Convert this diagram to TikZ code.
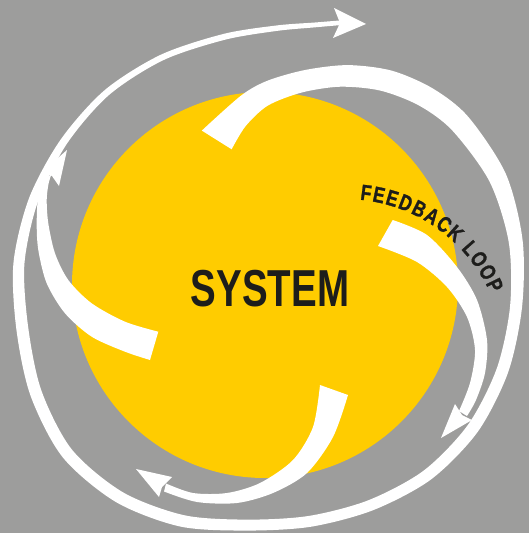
\documentclass[tikz,border=0pt]{standalone}
\usepackage{fontspec}
\newfontfamily\condfont[FakeStretch=0.74]{Liberation Sans}
\newfontfamily\labelfont[FakeStretch=0.78, BoldFeatures={FakeBold=1.2}]{Liberation Sans}
\definecolor{bggray}{RGB}{157,157,156}
\definecolor{sunyellow}{RGB}{255,204,0}
\definecolor{ink}{RGB}{29,29,27}

\begin{document}
\begin{tikzpicture}[x=1pt, y=-1pt,
    band/.style={fill=white},
    head/.style={fill=white},
    loopletter/.style={font=\labelfont\bfseries\fontsize{22}{22}\selectfont, text=ink, inner sep=0pt, anchor=base}]
  %background
  \fill[bggray] (0,0) rectangle (529,533);
  \useasboundingbox (0,0) rectangle (529,533);
  \fill[sunyellow] (265,285) circle[radius=193];

  %outer loop
  \begin{scope}[shift={(268,285)}]
    \fill[band] plot[smooth] coordinates {(246.8:168) (262:191.5) (270:204.5) (280:218.5) (290:234) (300:247.5) (310:256.5) (320:261.5) (335:262.5) (350:258.5) (365:255) (380:255.5) (395:256) (410:253.75) (425:248.5) (440:245.5) (455:246.5) (470:257) (485:265) (500:268) (515:262) (530:255.5) (545:255.5) (560:254.25) (575:253.25) (590:254.25) (605:254) (620:255) (632:259.75) (640:266.5) (645.4:274.5)}
      -- plot[smooth] coordinates {(645.4:269.5) (640:261.5) (632:254.25) (620:249) (605:248) (590:247.75) (575:245.75) (560:244.75) (545:244.5) (530:243.5) (515:250) (500:256) (485:253) (470:245) (455:235.5) (440:234.5) (425:237.5) (410:242.25) (395:244) (380:243.5) (365:243) (350:244.5) (335:244.5) (320:240.5) (310:234.5) (300:224.5) (290:211) (280:195.5) (270:179.5) (262:160.5) (255:140.5)} -- cycle;
  \end{scope}
  \fill[head] (366,24) -- (334,8) -- (340,23) -- (333,38) -- cycle;

  %inner arrows
  \fill[band] plot[smooth] coordinates {(158.3,331.7) (125,321.7) (91.7,303.3) (68.3,280) (55,253.3) (48.3,223.3) (46.7,200) (48.5,184) (51.5,174)}
    -- plot[smooth] coordinates {(46,178) (38.3,196.7) (36.7,223.3) (38.3,250) (46.7,283.3) (65,313.3) (91.7,336.7) (125,351.7) (150,360)} -- cycle;
  \fill[head] (67,150) -- (59,186) -- (52,176) -- (42,172) -- cycle;

  \fill[band] plot[smooth] coordinates {(320,385) (313,427) (293,460) (260,483) (227,493) (193,493) (166,483.5)}
    -- plot[smooth] coordinates {(164,491.5) (197,502) (237,503) (273,493) (307,473) (333,437) (348,395)} -- cycle;
  \fill[head] (136,469) -- (172,477) -- (162,487) -- (159,497) -- cycle;

  \fill[band] plot[smooth] coordinates {(392.7,220) (427,235) (457,267) (477,300) (487,340) (485,373) (476,400) (467,416)}
    -- plot[smooth] coordinates {(459,411) (470,383) (475,350) (467,317) (447,287) (417,262) (378,246)} -- cycle;
  \fill[head] (441,438) -- (455,404) -- (462,415) -- (472,420) -- cycle;

  %labels
  \node[font=\condfont\bfseries\fontsize{52}{52}\selectfont, text=ink, inner sep=0pt] (system) at (270,289) {SYSTEM};
  \begin{scope}[shift={(345,358)}]
    \foreach \ch/\a [count=\i] in {F/277.3, E/281.8, E/286.5, D/291.4, B/296.5, A/301.5, C/306.6, K/311.6, L/318.7, O/323.6, O/329.0, P/334.1}
      \node[loopletter, rotate=-\a-90] (fb\i) at (\a:159) {\ch};
  \end{scope}
\end{tikzpicture}
\end{document}
